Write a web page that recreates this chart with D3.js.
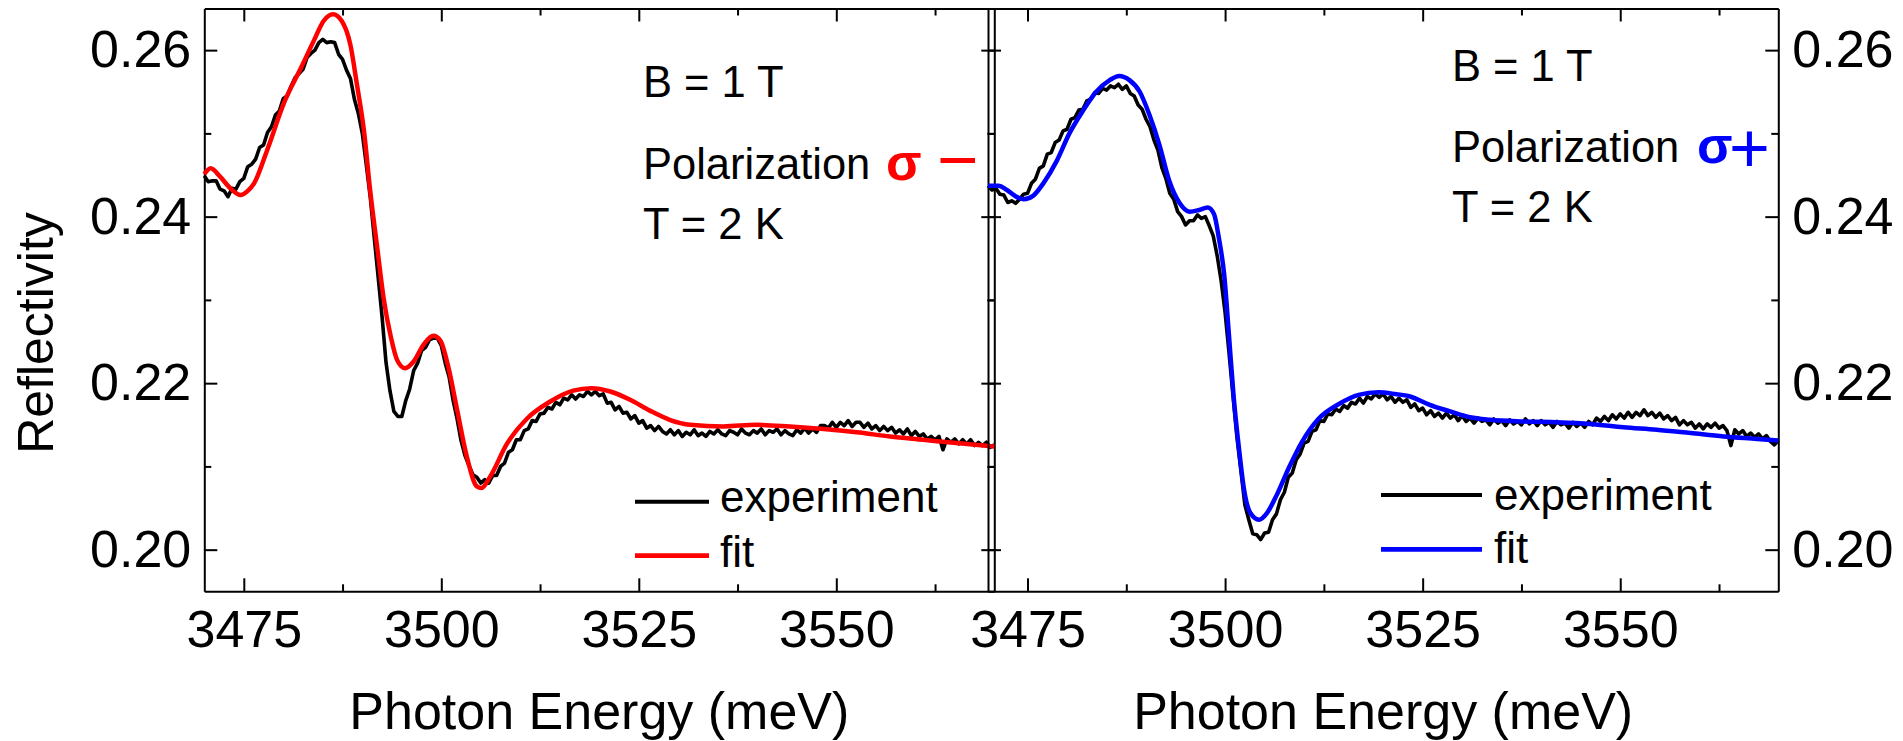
<!DOCTYPE html>
<html><head><meta charset="utf-8">
<script src="https://cdn.jsdelivr.net/npm/d3@7"></script>
<style>
body{margin:0;background:#fff}
svg{display:block}
text{font-family:"Liberation Sans",Arial,Helvetica,sans-serif}
</style>
</head><body>
<svg id="chart" width="1903" height="741"></svg>
<script>
// ---------------- DATA ----------------
const expEnergy = [
3470,3470.5,3471,3471.5,3472,3472.5,3473,3473.5,3474,3474.5,
3475,3475.5,3476,3476.5,3477,3477.5,3478,3478.5,3479,3479.5,
3480,3480.5,3481,3481.5,3482,3482.5,3483,3483.5,3484,3484.5,
3485,3485.5,3486,3486.5,3487,3487.5,3488,3488.5,3489,3489.5,
3490,3490.5,3491,3491.5,3492,3492.5,3493,3493.5,3494,3494.5,
3495,3495.5,3496,3496.5,3497,3497.5,3498,3498.5,3499,3499.5,
3500,3500.5,3501,3501.5,3502,3502.5,3503,3503.5,3504,3504.5,
3505,3505.5,3506,3506.5,3507,3507.5,3508,3508.5,3509,3509.5,
3510,3510.5,3511,3511.5,3512,3512.5,3513,3513.5,3514,3514.5,
3515,3515.5,3516,3516.5,3517,3517.5,3518,3518.5,3519,3519.5,
3520,3520.5,3521,3521.5,3522,3522.5,3523,3523.5,3524,3524.5,
3525,3525.5,3526,3526.5,3527,3527.5,3528,3528.5,3529,3529.5,
3530,3530.5,3531,3531.5,3532,3532.5,3533,3533.5,3534,3534.5,
3535,3535.5,3536,3536.5,3537,3537.5,3538,3538.5,3539,3539.5,
3540,3540.5,3541,3541.5,3542,3542.5,3543,3543.5,3544,3544.5,
3545,3545.5,3546,3546.5,3547,3547.5,3548,3548.5,3549,3549.5,
3550,3550.5,3551,3551.5,3552,3552.5,3553,3553.5,3554,3554.5,
3555,3555.5,3556,3556.5,3557,3557.5,3558,3558.5,3559,3559.5,
3560,3560.5,3561,3561.5,3562,3562.5,3563,3563.5,3564,3564.5,
3565,3565.5,3566,3566.5,3567,3567.5,3568,3568.5,3569,3569.5,
3570];

// sigma- experiment (left panel)
const expLeft = [
0.2449,0.2442,0.2443,0.2443,0.2433,0.2431,0.2424,0.2434,0.2433,0.2442,
0.2446,0.2460,0.2463,0.2469,0.2483,0.2486,0.2501,0.2508,0.2522,0.2527,
0.2542,0.2545,0.2557,0.2567,0.2572,0.2577,0.2591,0.2596,0.2600,0.2609,
0.2613,0.2609,0.2610,0.2609,0.2595,0.2589,0.2576,0.2566,0.2541,0.2524,
0.2500,0.2463,0.2424,0.2376,0.2328,0.2280,0.2225,0.2191,0.2166,0.2160,
0.2160,0.2179,0.2193,0.2215,0.2224,0.2239,0.2243,0.2252,0.2254,0.2254,
0.2245,0.2224,0.2207,0.2179,0.2157,0.2131,0.2113,0.2101,0.2090,0.2087,
0.2080,0.2084,0.2080,0.2089,0.2089,0.2100,0.2104,0.2117,0.2120,0.2132,
0.2132,0.2143,0.2145,0.2155,0.2154,0.2163,0.2164,0.2171,0.2169,0.2177,
0.2174,0.2182,0.2180,0.2186,0.2181,0.2186,0.2184,0.2190,0.2186,0.2190,
0.2185,0.2187,0.2176,0.2177,0.2168,0.2172,0.2164,0.2165,0.2157,0.2161,
0.2152,0.2155,0.2146,0.2149,0.2143,0.2148,0.2142,0.2139,0.2144,0.2138,
0.2143,0.2136,0.2141,0.2138,0.2144,0.2137,0.2140,0.2136,0.2142,0.2139,
0.2144,0.2139,0.2137,0.2143,0.2141,0.2138,0.2145,0.2140,0.2138,0.2143,
0.2140,0.2145,0.2138,0.2143,0.2141,0.2145,0.2138,0.2143,0.2139,0.2137,
0.2144,0.2140,0.2146,0.2140,0.2145,0.2141,0.2149,0.2149,0.2146,0.2153,
0.2147,0.2153,0.2149,0.2155,0.2148,0.2153,0.2153,0.2147,0.2152,0.2145,
0.2149,0.2143,0.2148,0.2143,0.2147,0.2140,0.2144,0.2139,0.2145,0.2137,
0.2142,0.2136,0.2139,0.2133,0.2136,0.2132,0.2136,0.2120,0.2133,0.2129,
0.2133,0.2127,0.2132,0.2127,0.2132,0.2125,0.2129,0.2125,0.2129,0.2123,
0.2126];

// sigma+ experiment (right panel)
const expRight = [
0.2437,0.2432,0.2434,0.2427,0.2426,0.2417,0.2419,0.2416,0.2421,0.2427,
0.2428,0.2440,0.2445,0.2458,0.2461,0.2475,0.2477,0.2489,0.2492,0.2503,
0.2505,0.2517,0.2519,0.2528,0.2529,0.2539,0.2541,0.2549,0.2548,0.2554,
0.2552,0.2557,0.2555,0.2559,0.2553,0.2557,0.2548,0.2545,0.2534,0.2529,
0.2517,0.2508,0.2492,0.2480,0.2459,0.2446,0.2428,0.2421,0.2406,0.2400,
0.2390,0.2395,0.2395,0.2402,0.2398,0.2400,0.2389,0.2377,0.2353,0.2323,
0.2285,0.2236,0.2185,0.2135,0.2095,0.2054,0.2036,0.2019,0.2018,0.2012,
0.2020,0.2021,0.2036,0.2043,0.2060,0.2069,0.2087,0.2092,0.2108,0.2115,
0.2128,0.2130,0.2142,0.2144,0.2155,0.2154,0.2163,0.2162,0.2169,0.2166,
0.2173,0.2170,0.2177,0.2175,0.2182,0.2176,0.2184,0.2181,0.2187,0.2183,
0.2187,0.2180,0.2184,0.2177,0.2182,0.2177,0.2180,0.2171,0.2175,0.2167,
0.2170,0.2162,0.2167,0.2160,0.2164,0.2158,0.2164,0.2158,0.2162,0.2155,
0.2161,0.2154,0.2158,0.2152,0.2158,0.2154,0.2156,0.2150,0.2157,0.2152,
0.2155,0.2149,0.2156,0.2151,0.2154,0.2150,0.2157,0.2151,0.2155,0.2149,
0.2155,0.2150,0.2153,0.2147,0.2154,0.2150,0.2152,0.2146,0.2153,0.2148,
0.2152,0.2147,0.2154,0.2150,0.2158,0.2154,0.2160,0.2155,0.2162,0.2157,
0.2163,0.2158,0.2165,0.2159,0.2165,0.2161,0.2168,0.2161,0.2165,0.2159,
0.2164,0.2157,0.2161,0.2155,0.2159,0.2150,0.2155,0.2150,0.2153,0.2146,
0.2151,0.2145,0.2151,0.2147,0.2152,0.2146,0.2149,0.2143,0.2125,0.2144,
0.2139,0.2143,0.2136,0.2140,0.2135,0.2139,0.2133,0.2137,0.2130,0.2126,
0.2131];

// sigma- fit (left panel)
const fitLeftEnergy = [3470,3470.8,3472,3473.3,3474.6,3475.5,3476.3,3478,3480.1,3482.2,3483.9,3485.1,3486.3,3487.4,3488.5,3489.3,3490.2,3491,3491.9,3492.7,3493.6,3494.4,3495.4,3496.5,3497.8,3499,3499.9,3500.9,3502,3503.2,3504.5,3505.1,3506.2,3508.3,3510.8,3513.8,3516.7,3519,3521.4,3523.9,3526.4,3528.9,3531.5,3535.7,3539.9,3544.1,3548.4,3552.6,3556.8,3561,3565.2,3570];
const fitLeft = [0.2451,0.2458,0.2448,0.2434,0.2426,0.2431,0.2440,0.2481,0.2537,0.2578,0.2612,0.2635,0.2643,0.2635,0.2606,0.2560,0.2504,0.2431,0.2362,0.2302,0.2256,0.2228,0.2218,0.2226,0.2247,0.2257,0.2251,0.2219,0.2168,0.2113,0.2076,0.2074,0.2088,0.2127,0.2157,0.2178,0.2191,0.2194,0.2190,0.2180,0.2167,0.2156,0.2150,0.2148,0.2150,0.2148,0.2145,0.2141,0.2136,0.2132,0.2128,0.2124];

// sigma+ fit (right panel)
const fitRightEnergy = [3470,3471.3,3472.4,3473.4,3474.5,3475.7,3477,3478.7,3480.3,3482,3483.7,3485.4,3486.6,3487.9,3489.2,3490.4,3491.7,3492.9,3494.2,3495.5,3496.7,3497.8,3498.6,3499.2,3499.9,3500.5,3501.1,3501.8,3502.4,3503.2,3504.3,3505.3,3506.6,3508.1,3509.7,3511.8,3514.4,3516.9,3519.4,3521.5,3523.4,3525.9,3528.5,3531,3533.5,3537.8,3542,3546.2,3550.4,3554.6,3558.9,3563.1,3567.3,3570];
const fitRight = [0.2437,0.2437,0.2432,0.2425,0.2421,0.2425,0.2440,0.2467,0.2500,0.2527,0.2550,0.2564,0.2569,0.2564,0.2550,0.2523,0.2486,0.2444,0.2417,0.2406,0.2408,0.2411,0.2403,0.2375,0.2329,0.2256,0.2182,0.2118,0.2072,0.2044,0.2036,0.2044,0.2067,0.2099,0.2129,0.2157,0.2175,0.2186,0.2189,0.2187,0.2184,0.2174,0.2166,0.2159,0.2156,0.2154,0.2153,0.2151,0.2147,0.2144,0.2140,0.2136,0.2133,0.2131];

const xMajorTicks = [3475, 3500, 3525, 3550];
const xTickLabels = ["3475", "3500", "3525", "3550"];
const xMinorTicks = [3487.5, 3512.5, 3537.5, 3562.5];
const yMajorTicks = [0.20, 0.22, 0.24, 0.26];
const yTickLabels = ["0.20", "0.22", "0.24", "0.26"];
const yMinorTicks = [0.21, 0.23, 0.25];
const legendLabels = ["experiment", "fit"];
const annotations = ["B = 1 T", "Polarization", "T = 2 K"];

// ---------------- DRAW ----------------
const svg = d3.select("#chart");
const FONT = '"Liberation Sans", Arial, Helvetica, sans-serif';
const TOP = 8.5, BOTTOM = 591.3;
const y = d3.scaleLinear().domain([0.195, 0.265]).range([BOTTOM, TOP]);

function styleAxis(g, fontSize) {
  g.attr("font-family", FONT).attr("font-size", fontSize);
  g.select(".domain").attr("stroke", "#000").attr("stroke-width", 2);
  g.selectAll(".tick line").attr("stroke", "#000").attr("stroke-width", 2);
  g.selectAll(".tick text").attr("fill", "#000");
}

function drawPanel(cfg) {
  const x = d3.scaleLinear().domain([3470, 3570]).range([cfg.x0, cfg.x1]);
  const g = svg.append("g");
  const MAJ = 13, MIN = 7;

  // bottom
  g.append("g").attr("transform", `translate(0,${BOTTOM})`)
    .call(d3.axisBottom(x).tickValues(xMajorTicks).tickSize(-MAJ).tickSizeOuter(0)
      .tickPadding(19).tickFormat((d, i) => xTickLabels[i]))
    .call(s => styleAxis(s, 52));
  g.append("g").attr("transform", `translate(0,${BOTTOM})`)
    .call(d3.axisBottom(x).tickValues(xMinorTicks).tickSize(-MIN).tickSizeOuter(0).tickFormat(""))
    .call(s => { styleAxis(s, 10); s.select(".domain").remove(); });
  // top
  g.append("g").attr("transform", `translate(0,${TOP})`)
    .call(d3.axisTop(x).tickValues(xMajorTicks).tickSize(-MAJ).tickSizeOuter(0).tickFormat(""))
    .call(s => styleAxis(s, 10));
  g.append("g").attr("transform", `translate(0,${TOP})`)
    .call(d3.axisTop(x).tickValues(xMinorTicks).tickSize(-MIN).tickSizeOuter(0).tickFormat(""))
    .call(s => { styleAxis(s, 10); s.select(".domain").remove(); });
  // left
  g.append("g").attr("transform", `translate(${cfg.x0},0)`)
    .call(d3.axisLeft(y).tickValues(yMajorTicks).tickSize(-MAJ).tickSizeOuter(0)
      .tickPadding(13).tickFormat((d, i) => cfg.leftLabels ? yTickLabels[i] : ""))
    .call(s => styleAxis(s, 52));
  g.append("g").attr("transform", `translate(${cfg.x0},0)`)
    .call(d3.axisLeft(y).tickValues(yMinorTicks).tickSize(-MIN).tickSizeOuter(0).tickFormat(""))
    .call(s => { styleAxis(s, 10); s.select(".domain").remove(); });
  // right
  g.append("g").attr("transform", `translate(${cfg.x1},0)`)
    .call(d3.axisRight(y).tickValues(yMajorTicks).tickSize(-MAJ).tickSizeOuter(0)
      .tickPadding(14).tickFormat((d, i) => cfg.rightLabels ? yTickLabels[i] : ""))
    .call(s => styleAxis(s, 52));
  g.append("g").attr("transform", `translate(${cfg.x1},0)`)
    .call(d3.axisRight(y).tickValues(yMinorTicks).tickSize(-MIN).tickSizeOuter(0).tickFormat(""))
    .call(s => { styleAxis(s, 10); s.select(".domain").remove(); });

  // experiment line
  const lineExp = d3.line().x((d, i) => x(expEnergy[i])).y(d => y(d));
  g.append("path").datum(cfg.exp).attr("d", lineExp)
    .attr("fill", "none").attr("stroke", "#000").attr("stroke-width", 3.6)
    .attr("stroke-linejoin", "round");
  // fit line
  const lineFit = d3.line().x((d, i) => x(cfg.fitE[i])).y(d => y(d)).curve(d3.curveMonotoneX);
  g.append("path").datum(cfg.fit).attr("d", lineFit)
    .attr("fill", "none").attr("stroke", cfg.color).attr("stroke-width", 4.5)
    .attr("stroke-linejoin", "round");

  // x title
  g.append("text").attr("x", (cfg.x0 + cfg.x1) / 2).attr("y", 729)
    .attr("text-anchor", "middle").attr("font-size", 52).attr("fill", "#000")
    .text("Photon Energy (meV)");

  // annotations
  const A = cfg.ann;
  annotations.forEach((t, i) => {
    g.append("text").attr("x", A.x).attr("y", A.ys[i]).attr("font-size", 43.5)
      .attr("fill", "#000").text(t);
  });
  const pol = g.append("text").attr("x", A.sigX).attr("y", A.ys[1] + 1).attr("fill", cfg.color);
  pol.append("tspan").attr("font-size", 52).attr("font-weight", "bold").text("σ");
  pol.append("tspan").attr("x", A.signX).attr("y", A.signY).attr("font-size", A.signSize)
    .text(A.sign);

  // legend
  const L = cfg.leg;
  [["#000", 4], [cfg.color, 4.8]].forEach((c, i) => {
    g.append("line").attr("x1", L.x0).attr("x2", L.x1)
      .attr("y1", L.ys[i]).attr("y2", L.ys[i])
      .attr("stroke", c[0]).attr("stroke-width", c[1]);
    g.append("text").attr("x", L.tx).attr("y", L.ts[i]).attr("font-size", 44)
      .attr("fill", "#000").text(legendLabels[i]);
  });
}

drawPanel({
  x0: 204.3, x1: 994.3, leftLabels: true, rightLabels: false,
  exp: expLeft, fitE: fitLeftEnergy, fit: fitLeft, color: "#ff0000",
  ann: { x: 643, ys: [97, 179, 239], sigX: 886, sign: "−", signX: 937, signY: 184, signSize: 71 },
  leg: { x0: 635, x1: 709, ys: [501.7, 555.7], tx: 720, ts: [512, 567] }
});
drawPanel({
  x0: 988, x1: 1778.3, leftLabels: false, rightLabels: true,
  exp: expRight, fitE: fitRightEnergy, fit: fitRight, color: "#0000ff",
  ann: { x: 1452, ys: [81, 162, 222], sigX: 1697, sign: "+", signX: 1729, signY: 172, signSize: 70 },
  leg: { x0: 1381, x1: 1482, ys: [495, 549.3], tx: 1494, ts: [510, 563] }
});

// y title
svg.append("text").attr("transform", "translate(53,333) rotate(-90)")
  .attr("text-anchor", "middle").attr("font-size", 50).attr("fill", "#000")
  .attr("font-family", FONT).text("Reflectivity");
</script>
</body></html>
